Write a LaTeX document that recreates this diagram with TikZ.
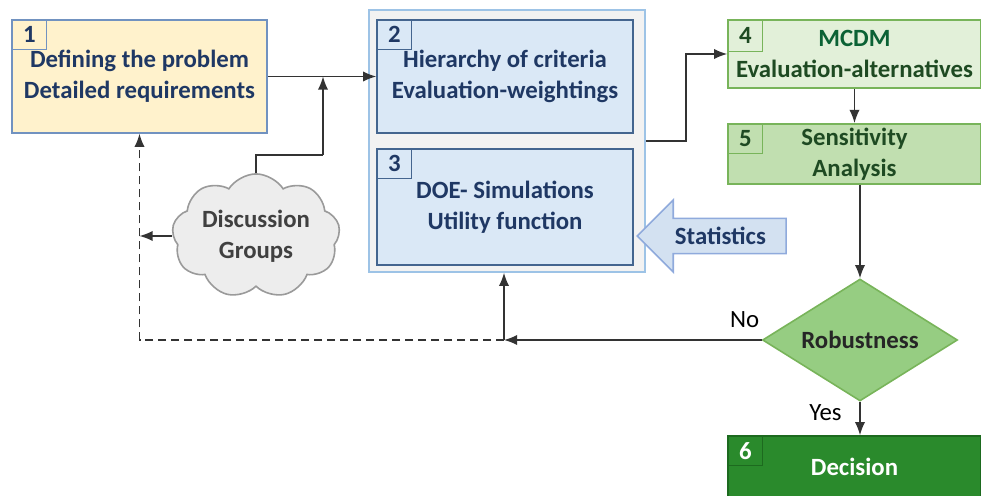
\documentclass[tikz,border=0pt]{standalone}
\usepackage{fontspec}
\setmainfont{Carlito}
\usetikzlibrary{arrows.meta,calc,positioning,shapes.geometric,shapes.symbols,shapes.arrows}
\definecolor{navytext}{HTML}{1F3864}
\definecolor{defcol}{HTML}{FFF2CC}
\definecolor{defline}{HTML}{7192C0}
\definecolor{critfill}{HTML}{DAE8F6}
\definecolor{critline}{HTML}{44658F}
\definecolor{outerfill}{HTML}{F2F2F2}
\definecolor{outerline}{HTML}{9DC3E6}
\definecolor{statfill}{HTML}{D3E1F1}
\definecolor{statline}{HTML}{8FAADC}
\definecolor{mcdmfill}{HTML}{E2F0D9}
\definecolor{sensfill}{HTML}{C1DFB0}
\definecolor{greenline}{HTML}{78B45A}
\definecolor{greentext}{HTML}{1E4A22}
\definecolor{mcdmtext}{HTML}{0B6235}
\definecolor{robfill}{HTML}{96CD82}
\definecolor{decfill}{HTML}{2A8A2C}
\definecolor{decline}{HTML}{1D6A1F}
\definecolor{cloudfill}{HTML}{EDEDED}
\definecolor{cloudline}{HTML}{9A9A9A}

\begin{document}
\begin{tikzpicture}[
    x=0.5pt,
    y=-0.5pt,
    every node/.style={font=\fontsize{12.4}{15.5}\selectfont\bfseries},
    stage/.style={draw, line width=0.8pt, align=center, inner sep=2pt},
    numbox/.style={draw, line width=0.6pt, anchor=north west,
      minimum width=17.5pt, minimum height=15pt, inner sep=0pt},
    flow/.style={-{Latex[length=2.3mm, width=1.8mm]}, draw=black!80, line width=0.7pt},
    link/.style={draw=black!80, line width=0.7pt},
    lbl/.style={font=\fontsize{12.4}{14}\selectfont, inner sep=1pt}
  ]
    % pixel coordinates of the 981 x 496 frame, y growing downwards
    \clip (0,0) rectangle (981,496);

    % Stage 1
    \node[stage, fill=defcol, draw=defline, text=navytext,
      minimum width=127.5pt, minimum height=56.5pt] (define) at (139.5,76.5)
      {Defining the problem\\Detailed requirements};
    \node[numbox, draw=defline, text=navytext] (num1) at (define.north west) {1};

    % Stages 2 and 3 inside the light frame
    \node[draw=outerline, fill=outerfill, line width=0.8pt,
      minimum width=138pt, minimum height=131pt] (outer) at (507,141) {};
    \node[stage, fill=critfill, draw=critline, text=navytext,
      minimum width=128pt, minimum height=56.5pt] (criteria) at (505,76.5)
      {Hierarchy of criteria\\Evaluation-weightings};
    \node[numbox, draw=critline, text=navytext] (num2) at (criteria.north west) {2};
    \node[stage, fill=critfill, draw=critline, text=navytext,
      minimum width=128pt, minimum height=58pt] (doe) at (505,207)
      {DOE- Simulations\\Utility function};
    \node[numbox, draw=critline, text=navytext] (num3) at (doe.north west) {3};

    % Statistics block arrow
    \node[single arrow, shape border rotate=180, anchor=tip,
      fill=statfill, draw=statline, line width=0.8pt, text=navytext,
      single arrow head extend=9.25pt, single arrow head indent=0pt,
      minimum height=74.5pt, inner xsep=3pt, inner ysep=4pt] (stats) at (636,236)
      {Statistics};

    % Stages 4 and 5
    \node[stage, fill=mcdmfill, draw=greenline, text=greentext,
      minimum width=126.5pt, minimum height=34pt] (mcdm) at (854.5,54)
      {\textcolor{mcdmtext}{MCDM}\\Evaluation-alternatives};
    \node[numbox, draw=greenline, text=greentext, minimum height=16pt] (num4) at (mcdm.north west) {4};
    \node[stage, fill=sensfill, draw=greenline, text=greentext,
      minimum width=126.5pt, minimum height=29pt] (sens) at (854.5,154)
      {Sensitivity\\Analysis};
    \node[numbox, draw=greenline, text=greentext] (num5) at (sens.north west) {5};

    % Robustness check and decision
    \node[diamond, aspect=1.6, fill=robfill, draw=greenline, line width=0.8pt, inner sep=0pt,
      minimum width=97.5pt, minimum height=61pt, text=black!85] (robust) at (860,340)
      {Robustness};
    \node[stage, fill=decfill, draw=decline, text=white,
      minimum width=126.5pt, minimum height=31pt] (decision) at (854.5,467)
      {Decision};
    \node[numbox, draw=decline, text=white] (num6) at (decision.north west) {6};

    % Discussion groups cloud
    \node[cloud, cloud puffs=9, cloud puff arc=115, aspect=1.5,
      fill=cloudfill, draw=cloudline, line width=0.8pt, text=black!75, align=center,
      minimum width=84pt, minimum height=56pt, inner sep=0pt] (groups) at (256,236)
      {Discussion\\Groups};

    % Connectors
    \coordinate (merge) at (323,76.5);
    \coordinate (bend) at (323,155);
    \coordinate (back) at (504,340);
    \draw[flow] (define.east) -- (criteria.west);
    \draw[link] (groups.north) |- (bend);
    \draw[flow] (bend) -- (merge);
    \draw[flow] (groups.west) -- (groups.west -| define.south);
    \draw[flow] (outer.east) -- ++(40,0) |- (mcdm.west);
    \draw[flow] (mcdm.south) -- (sens.north);
    \draw[flow] (robust.north |- sens.south) -- (robust.north);
    \draw[flow] (robust.south) -- (robust.south |- decision.north);
    \draw[flow] (robust.west) -- (back);
    \draw[flow] (back) -- (back |- outer.south);
    \draw[flow, dash pattern=on 4pt off 2.5pt] (back) -| (define.south);

    % Branch labels
    \node[lbl, anchor=south east] (nolbl) at ([yshift=5pt]robust.west) {No};
    \node[lbl, anchor=north east] (yeslbl) at ([xshift=-8pt]robust.south) {Yes};
  \end{tikzpicture}
\end{document}
